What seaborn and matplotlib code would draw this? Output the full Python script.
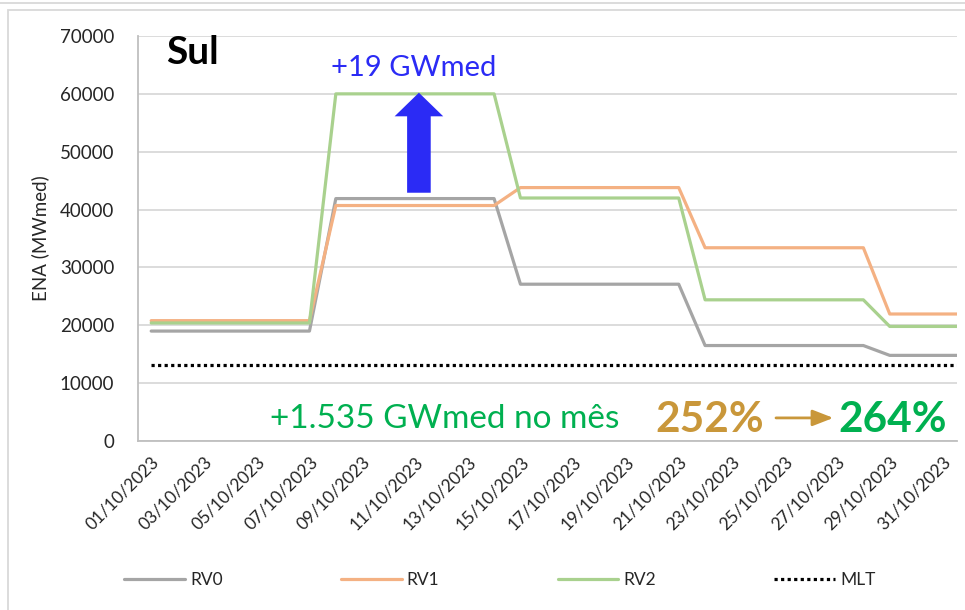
import numpy as np
import pandas as pd
import matplotlib
matplotlib.use("Agg")
import matplotlib.pyplot as plt
import seaborn as sns
from matplotlib.patches import Rectangle
from matplotlib.lines import Line2D

# ---------------- data ----------------
dates = [f"{d:02d}/10/2023" for d in range(1, 32)] + ["01/11/2023"]
rv0 = [19000] * 7 + [41900] * 7 + [27100] * 7 + [16500] * 7 + [14800] * 4
rv1 = [20800] * 7 + [40700] * 7 + [43800] * 7 + [33400] * 7 + [21950] * 4
rv2 = [20400] * 7 + [60000] * 7 + [42000] * 7 + [24400] * 7 + [19800] * 4
mlt = [13100] * 32
series_names = ["RV0", "RV1", "RV2", "MLT"]
series_colors = ["#A5A5A5", "#F4B183", "#A9D18E", "#000000"]
yticks = [0, 10000, 20000, 30000, 40000, 50000, 60000, 70000]

df = pd.DataFrame({
    "idx": list(range(len(dates))) * 4,
    "valor": rv0 + rv1 + rv2 + mlt,
    "serie": sum([[n] * len(dates) for n in series_names], []),
})

# ---------------- style ----------------
sns.set_theme(style="white")
plt.rcParams["font.family"] = ["Lato", "DejaVu Sans"]

fig = plt.figure(figsize=(9.65, 6.10), dpi=100)
ax = fig.add_axes([138 / 965, (610 - 441) / 610, 819 / 965, 405 / 610])

palette = dict(zip(series_names, series_colors))
dashes = {"RV0": "", "RV1": "", "RV2": "", "MLT": (1, 1.05)}
sns.lineplot(data=df, x="idx", y="valor", hue="serie", style="serie",
             palette=palette, dashes=dashes, linewidth=2.3, ax=ax,
             legend=False, estimator=None)

ax.set_xlim(-0.5, 30.55)
ax.set_ylim(0, 70000)
ax.set_yticks(yticks)
ax.set_yticklabels([str(v) for v in yticks], fontsize=13.5, color="#262626")
xt = list(range(0, 31, 2))
ax.set_xticks(xt)
ax.set_xticklabels([dates[i] for i in xt], rotation=45, ha="right",
                   rotation_mode="anchor", fontsize=12.5, color="#262626")
ax.tick_params(axis="y", length=0, pad=17)
ax.tick_params(axis="x", length=0, pad=9)
ax.grid(axis="y", color="#D9D9D9", linewidth=1.3)
ax.set_axisbelow(True)
for s in ["top", "right"]:
    ax.spines[s].set_visible(False)
for s in ["left", "bottom"]:
    ax.spines[s].set_color("#BFBFBF")
    ax.spines[s].set_linewidth(1.3)
ax.set_xlabel("")
ax.set_ylabel("ENA (MWmed)", fontsize=13.5, color="#262626", labelpad=8)

# ---------------- annotations ----------------
ax.text(0.034, 0.931, "Sul", transform=ax.transAxes, fontsize=28,
        fontweight="bold", color="black", va="baseline", ha="left")
ax.text(0.337, 0.901, "+19 GWmed", transform=ax.transAxes, fontsize=21,
        color="#2B2BF5", va="baseline", ha="center")
ax.annotate("", xy=(0.343, 0.860), xytext=(0.343, 0.613),
            xycoords="axes fraction", textcoords="axes fraction",
            arrowprops=dict(arrowstyle="simple,head_width=35,head_length=17,tail_width=17",
                            mutation_scale=1, color="#2B2BF5", shrinkA=0, shrinkB=0, lw=0))
ax.text(0.375, 0.032, "+1.535 GWmed no mês", transform=ax.transAxes, fontsize=24,
        color="#00B050", va="baseline", ha="center")
ax.text(0.698, 0.022, "252%", transform=ax.transAxes, fontsize=30.5,
        fontweight="bold", color="#C9973A", va="baseline", ha="center")
ax.text(0.921, 0.022, "264%", transform=ax.transAxes, fontsize=30.5,
        fontweight="bold", color="#00B050", va="baseline", ha="center")
ax.annotate("", xy=(0.849, 0.057), xytext=(0.779, 0.057),
            xycoords="axes fraction", textcoords="axes fraction",
            arrowprops=dict(arrowstyle="-|>,head_width=0.35,head_length=0.9",
                            mutation_scale=14, color="#C9973A", lw=2,
                            shrinkA=0, shrinkB=0))

# ---------------- legend ----------------
handles = [Line2D([0], [0], color=c, lw=2.3,
                  linestyle=(0, (1, 1.05)) if n == "MLT" else "-")
           for n, c in zip(series_names, series_colors)]
fig.legend(handles, series_names, loc="center", bbox_to_anchor=(0.518, 0.049),
           ncol=4, frameon=False, fontsize=12.5, handlelength=3.5,
           handletextpad=0.3, columnspacing=6.8, labelcolor="#262626")

# chart border
fig.add_artist(Rectangle((8 / 965, -0.05), 1.1, (600 / 610) + 0.05,
                         transform=fig.transFigure, fill=False,
                         edgecolor="#D9D9D9", lw=1.3))
fig.add_artist(Line2D([0, 1], [1 - 3 / 610] * 2, transform=fig.transFigure,
                      color="#D9D9D9", lw=1.3))

fig.savefig("out.png", dpi=100)
